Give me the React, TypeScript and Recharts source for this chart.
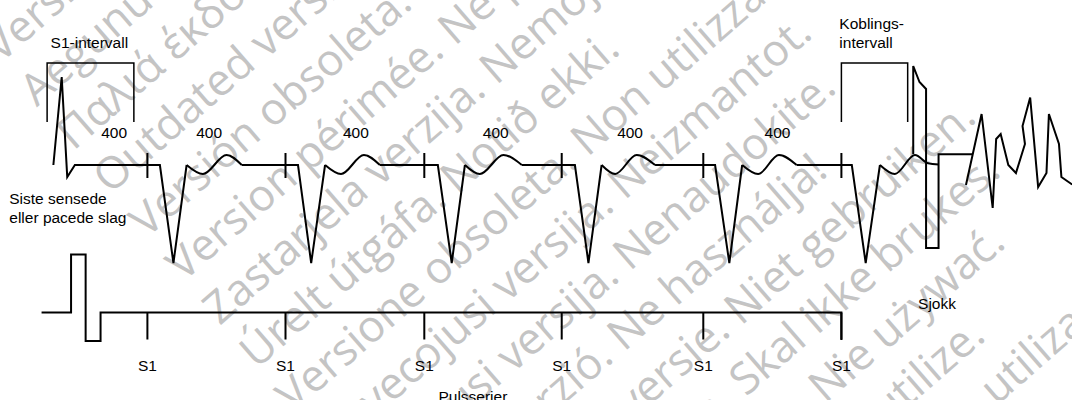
import React from 'react';
import { ComposedChart, Line, XAxis, YAxis, ReferenceDot } from 'recharts';

// time axis in ms (0 = first S1 pulse), ECG in mV, pacer output in arbitrary units
type Pt = { t: number; v: number | null };
type Note = { t: number; v: number; text: string; axis: 'ecg' | 'pace'; anchor: 'start' | 'middle' };

const s1Times = [0, 398, 798, 1194, 1602, 2000];
const intervalLabelTimes = [-96, 178, 601, 1004, 1391, 1816];
const intervalLabels = ['400', '400', '400', '400', '400', '400'];

// last sensed beat, baseline and the paced QRS complexes (straight segments)
const ecgSharp: Pt[] = [
  { t: -271, v: 0 }, { t: -247, v: 0.88 }, { t: -231, v: -0.12 }, { t: -209, v: 0 },
  { t: 36, v: 0 }, { t: 75, v: -0.98 }, { t: 113, v: 0 }, { t: 113, v: null },
  { t: 272, v: 0 }, { t: 434, v: 0 }, { t: 472, v: -0.98 }, { t: 512, v: 0 }, { t: 512, v: null },
  { t: 670, v: 0 }, { t: 837, v: 0 }, { t: 877, v: -0.98 }, { t: 915, v: 0 }, { t: 915, v: null },
  { t: 1079, v: 0 }, { t: 1232, v: 0 }, { t: 1271, v: -0.98 }, { t: 1309, v: 0 }, { t: 1309, v: null },
  { t: 1463, v: 0 }, { t: 1636, v: 0 }, { t: 1677, v: -0.98 }, { t: 1714, v: 0 }, { t: 1714, v: null },
  { t: 1871, v: 0 }, { t: 2030, v: 0 }, { t: 2070, v: -0.98 }, { t: 2111, v: 0 },
];

// T-waves after each paced beat (smooth)
const tWaves: Pt[] = [
  { t: 113, v: 0 }, { t: 160, v: -0.09 }, { t: 228, v: 0.1 }, { t: 272, v: 0 }, { t: 272, v: null },
  { t: 512, v: 0 }, { t: 558, v: -0.09 }, { t: 624, v: 0.1 }, { t: 670, v: 0 }, { t: 670, v: null },
  { t: 915, v: 0 }, { t: 958, v: -0.09 }, { t: 1026, v: 0.1 }, { t: 1079, v: 0 }, { t: 1079, v: null },
  { t: 1309, v: 0 }, { t: 1348, v: -0.09 }, { t: 1410, v: 0.1 }, { t: 1463, v: 0 }, { t: 1463, v: null },
  { t: 1714, v: 0 }, { t: 1760, v: -0.09 }, { t: 1820, v: 0.1 }, { t: 1871, v: 0 }, { t: 1871, v: null },
  { t: 2111, v: 0 }, { t: 2154, v: -0.09 }, { t: 2212, v: 0.1 }, { t: 2250, v: 0.017 }, { t: 2280, v: 0.005 },
];

const ecgTicks: Pt[] = s1Times.flatMap((t) => [{ t, v: 0.12 }, { t, v: -0.13 }, { t, v: null }]);
const paceTicks: Pt[] = s1Times.flatMap((t) => [{ t, v: 0 }, { t, v: -0.27 }, { t, v: null }]);

const paceTrace: Pt[] = [
  { t: -305, v: 0 }, { t: -220, v: 0 }, { t: -220, v: 0.58 }, { t: -178, v: 0.58 },
  { t: -178, v: -0.285 }, { t: -135, v: -0.285 }, { t: -135, v: 0 }, { t: 2000, v: 0 }, { t: 2000, v: -0.275 },
];

const s1Bracket: Pt[] = [
  { t: -289, v: 0.43 }, { t: -289, v: 1.02 }, { t: -39, v: 1.02 }, { t: -39, v: 0.43 },
];
const couplingBracket: Pt[] = [
  { t: 2000, v: 0.43 }, { t: 2000, v: 1.02 }, { t: 2191, v: 1.02 }, { t: 2191, v: 0.43 },
];

const shock: Pt[] = [
  { t: 2207, v: 0.11 }, { t: 2207, v: 0.99 }, { t: 2225, v: 0.83 }, { t: 2244, v: 0.76 },
  { t: 2244, v: -0.83 }, { t: 2280, v: -0.83 }, { t: 2280, v: 0.107 }, { t: 2378, v: 0.107 },
];

const fibrillation: Pt[] = [
  { t: 2359, v: -0.2 }, { t: 2404, v: 0.51 }, { t: 2436, v: -0.43 }, { t: 2446, v: 0.26 },
  { t: 2459, v: 0.31 }, { t: 2481, v: 0 }, { t: 2503, v: -0.08 }, { t: 2529, v: 0.21 },
  { t: 2522, v: 0.39 }, { t: 2544, v: 0.675 }, { t: 2567, v: -0.22 }, { t: 2591, v: -0.08 },
  { t: 2598, v: 0.51 }, { t: 2627, v: 0.21 }, { t: 2634, v: -0.12 }, { t: 2665, v: -0.195 },
];

const notes: Note[] = [
  { t: -279, v: 1.17, text: 'S1-intervall', axis: 'ecg', anchor: 'start' },
  { t: -398, v: -0.39, text: 'Siste sensede', axis: 'ecg', anchor: 'start' },
  { t: -398, v: -0.58, text: 'eller pacede slag', axis: 'ecg', anchor: 'start' },
  { t: 1994, v: 1.36, text: 'Koblings-', axis: 'ecg', anchor: 'start' },
  { t: 1994, v: 1.167, text: 'intervall', axis: 'ecg', anchor: 'start' },
  { t: 2221, v: -1.437, text: 'Sjokk', axis: 'ecg', anchor: 'start' },
  { t: 938, v: -0.895, text: 'Pulsserier', axis: 'pace', anchor: 'middle' },
  ...intervalLabelTimes.map((t, i) => ({ t, v: 0.267, text: intervalLabels[i], axis: 'ecg' as const, anchor: 'middle' as const })),
  ...s1Times.map((t) => ({ t, v: -0.58, text: 'S1', axis: 'pace' as const, anchor: 'middle' as const })),
];

const watermark = [
  'Version nicht mehr gültig. Nicht verwenden.',
  'Aegunud versioon. Ärge kasutage.',
  'Παλιά έκδοση. Μην τη χρησιμοποιείτε.',
  'Outdated version. Do not use.',
  'Versión obsoleta. No utilizar.',
  'Version périmée. Ne pas utiliser.',
  'Zastarjela verzija. Nemojte upotrebljavati.',
  'Úrelt útgáfa. Notið ekki.',
  'Versione obsoleta. Non utilizzare.',
  'Novecojusi versija. Neizmantot.',
  'Pasenusi versija. Nenaudokite.',
  'Elavult verzió. Ne használja!',
  'Verouderde versie. Niet gebruiken.',
  'Utdatert versjon. Skal ikke brukes.',
  'Wersja nieaktualna. Nie używać.',
  'Versão obsoleta. Não utilize.',
  'Versiune expirată. A nu se utiliza.',
];

const PX_PER_MS = 138.8 / 400;
const FIRST_S1_PX = 147.4;
const W = 1072;
const H = 400;

const lineProps = {
  dataKey: 'v',
  stroke: '#000',
  strokeWidth: 2,
  dot: false,
  activeDot: false,
  connectNulls: false,
  isAnimationActive: false,
  legendType: 'none' as const,
};

const App: React.FC = () => {
  const tMin = -FIRST_S1_PX / PX_PER_MS;
  const tMax = (W - FIRST_S1_PX) / PX_PER_MS;

  return (
    <div style={{ position: 'relative', width: W, height: H, background: '#fff' }}>
      <style>{'body{margin:0}'}</style>
      <svg width={W} height={H} style={{ position: 'absolute', left: 0, top: 0 }}>
        {watermark.map((txt, i) => (
          <text
            key={i}
            transform={`translate(${0.2 + 36.6 * i},${63.9 + 43.7 * i}) rotate(-41)`}
            fontFamily="'Open Sans', sans-serif"
            fontSize={44}
            fill="#c4c4c4"
          >
            {txt}
          </text>
        ))}
      </svg>
      <ComposedChart width={W} height={H} margin={{ top: 0, right: 0, bottom: 0, left: 0 }}>
        <XAxis dataKey="t" type="number" domain={[tMin, tMax]} allowDataOverflow hide />
        <YAxis yAxisId="ecg" type="number" domain={[-2.35, 1.65]} allowDataOverflow hide />
        <YAxis yAxisId="pace" type="number" domain={[-0.875, 3.125]} allowDataOverflow hide />

        <Line {...lineProps} yAxisId="ecg" data={ecgSharp} type="linear" />
        <Line {...lineProps} yAxisId="ecg" data={tWaves} type="monotone" />
        <Line {...lineProps} yAxisId="ecg" data={ecgTicks} type="linear" />
        <Line {...lineProps} yAxisId="ecg" data={s1Bracket} type="linear" strokeWidth={1.5} />
        <Line {...lineProps} yAxisId="ecg" data={couplingBracket} type="linear" strokeWidth={1.5} />
        <Line {...lineProps} yAxisId="ecg" data={shock} type="linear" />
        <Line {...lineProps} yAxisId="ecg" data={fibrillation} type="linear" />
        <Line {...lineProps} yAxisId="pace" data={paceTrace} type="linear" />
        <Line {...lineProps} yAxisId="pace" data={paceTicks} type="linear" />

        {notes.map((n, i) => (
          <ReferenceDot
            key={i}
            x={n.t}
            y={n.v}
            yAxisId={n.axis}
            ifOverflow="visible"
            shape={(p: any) => (
              <text
                x={p.cx}
                y={p.cy}
                textAnchor={n.anchor}
                fontFamily="'Liberation Sans', Arial, sans-serif"
                fontSize={15.5}
                fill="#000"
              >
                {n.text}
              </text>
            )}
          />
        ))}
      </ComposedChart>
    </div>
  );
};

export default App;
